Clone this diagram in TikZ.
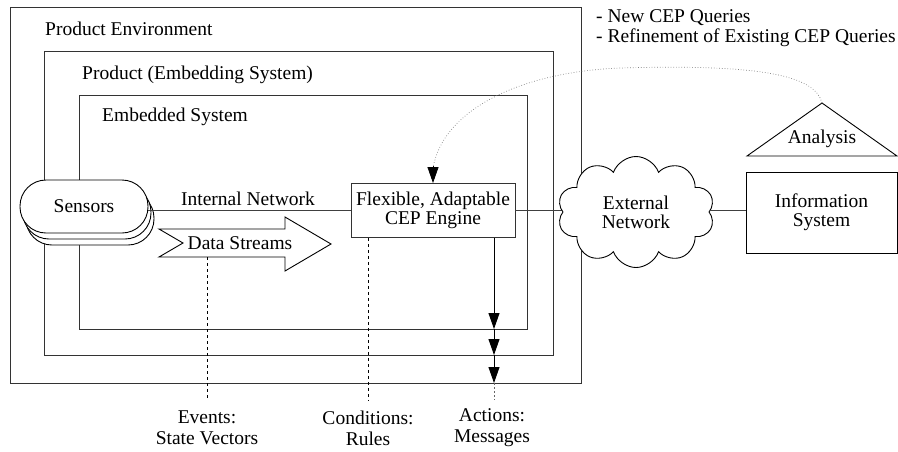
\documentclass[tikz,border=0pt]{standalone}
\usepackage{fontspec}
\setmainfont{Liberation Serif}
\usetikzlibrary{shapes.symbols,arrows.meta,calc}
\begin{document}
\begin{tikzpicture}[x=1pt,y=-1pt,
  every node/.style={font=\fontsize{19.5}{21}\selectfont, text=black},
  frame/.style={draw=black!80, line width=0.9pt},
  boxlabel/.style={anchor=west, inner sep=0pt},
  stadium/.style={draw=black, line width=0.9pt, fill=white, rectangle,
    rounded corners=26pt, minimum width=128pt, minimum height=53pt, inner sep=0pt},
  wire/.style={draw=black!75, line width=0.8pt},
  tipline/.style={draw=black, line width=0.9pt, -{Triangle[length=16pt,width=11pt]}},
  guide/.style={draw=black, line width=0.8pt, dash pattern=on 3pt off 3pt},
  caption/.style={align=center, inner sep=0pt}
]
\useasboundingbox (0,0) rectangle (898,451);

% nested system frames
\draw[frame] (10,7) rectangle (581,383);
\draw[frame] (44,51) rectangle (553,355);
\draw[frame] (79,95) rectangle (527,329);
\node[boxlabel] (penv) at (45,29) {Product Environment};
\node[boxlabel] (prod) at (82,75) {Product (Embedding System)};
\node[boxlabel] (emb) at (102,117) {Embedded System};

% stacked sensors
\node[stadium] (sens3) at (90,218.5) {};
\node[stadium] (sens2) at (87,212.5) {};
\node[stadium] (sensors) at (84,206.5) {Sensors};

% CEP engine
\node[draw=black!80, line width=0.9pt, fill=white, align=center,
  minimum width=164pt, minimum height=54pt, inner sep=0pt]
  (cep) at (433,210.5) {Flexible, Adaptable\\[-2pt]CEP Engine};

% internal network
\draw[wire] (sensors.east |- 0,210) coordinate (inA) -- (cep.west |- 0,210) coordinate (inB);
\node[inner sep=0pt] (intnet) at (248,199) {Internal Network};

% data streams arrow
\draw[line width=0.9pt, draw=black, fill=white]
  (159,229) coordinate (dsA) -- (285,229) -- (285,217) -- (331,244) coordinate (dsTip)
  -- (285,271) -- (285,257) -- (159,257) -- (183,243) -- cycle;
\node[inner sep=0pt] (ds) at (240,243) {Data Streams};

% external network and information system
\draw[wire] (cep.east |- 0,210) coordinate (exA) -- (636,210) coordinate (exB);
\node[draw=black, line width=0.9pt, fill=white, shape=cloud, cloud puffs=10,
  cloud puff arc=140, aspect=1.4, minimum width=157pt, minimum height=111pt,
  inner sep=0pt, align=center]
  (cloud) at (636,212) {External\\[-2pt]Network};
\node[draw=black, line width=0.9pt, align=center, minimum width=151pt,
  minimum height=81pt, inner sep=0pt] (info) at (821.5,212.5) {Information\\[-2pt]System};
\draw[wire] (cloud.east |- 0,210) -- (info.west |- 0,210);

% analysis triangle
\coordinate (apex) at (822,103);
\draw[line width=0.9pt] (747,156) -- (apex) -- (897,156) -- cycle;
\node[inner sep=0pt] (analysis) at (822,139) {Analysis};

% feedback of queries
\node[anchor=west, align=left, inner sep=0pt] (queries) at (596,28)
  {- New CEP Queries\\[-1pt]- Refinement of Existing CEP Queries};
\coordinate (peak) at (620,68);
\draw[draw=black!50, line width=0.7pt, dotted]
  (apex) .. controls (815,75) and (760,64) .. (peak)
  .. controls (520,72) and (443,110) .. (433,168);
\draw[black, line width=0.8pt, -{Triangle[length=16pt,width=11pt]}] (433,166) -- (cep.north);

% actions leaving the systems
\coordinate (a0) at (cep.south -| 494,0);
\coordinate (a1) at (494,329);
\coordinate (a2) at (494,355);
\coordinate (a3) at (494,383);
\coordinate (a4) at (494,400);
\draw[tipline] (a0) -- (a1);
\draw[tipline] (a1) -- (a2);
\draw[tipline] (a2) -- (a3);
\draw[black!60, line width=0.8pt, dash pattern=on 2pt off 2pt] (a3) -- (a4);

% annotation guides
\coordinate (evTop) at (207,257);
\coordinate (evBot) at (207,400);
\coordinate (coTop) at (cep.south -| 368,0);
\coordinate (coBot) at (368,400);
\draw[guide] (evTop) -- (evBot);
\draw[guide] (coTop) -- (coBot);

\node[caption] (events) at (207,428) {Events:\\State Vectors};
\node[caption] (conds) at (368,428) {Conditions:\\Rules};
\node[caption] (acts) at (492,428) {Actions:\\Messages};
\end{tikzpicture}
\end{document}
